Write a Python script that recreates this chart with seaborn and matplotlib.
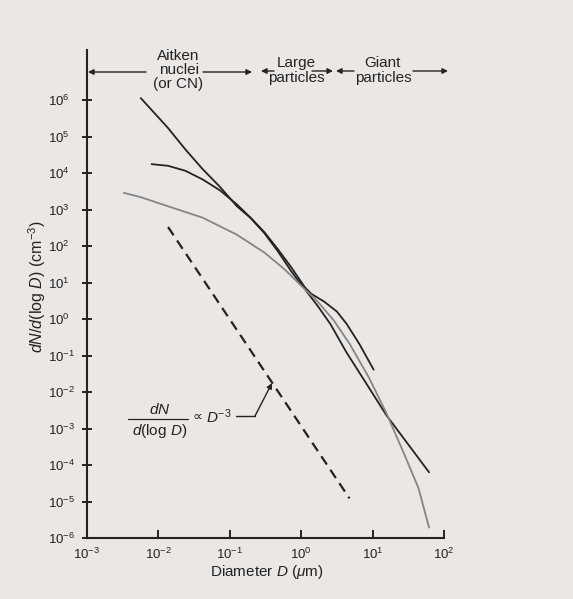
import matplotlib
matplotlib.use("Agg")
import matplotlib.pyplot as plt
import seaborn as sns
import pandas as pd
from matplotlib.lines import Line2D
from matplotlib.patches import FancyArrowPatch
from matplotlib.ticker import NullLocator

# ---------------- data ----------------
# Curve A (top, steep black line)
a_diam = [0.00566, 0.0135, 0.0238, 0.0416, 0.0723, 0.126, 0.195, 0.303, 0.469,
          0.726, 1.122, 1.698, 2.564, 4.315, 7.261, 15.63, 61.8]
a_num = [1.13e6, 1.75e5, 4.46e4, 1.28e4, 4.23e3, 1.225e3, 587.5, 228.6, 72.6,
         20.2, 6.62, 2.29, 0.726, 0.121, 0.0245, 2.30e-3, 6.31e-5]

# Curve B (middle black line with shoulder)
b_diam = [0.00804, 0.01365, 0.0238, 0.0416, 0.0723, 0.126, 0.195, 0.303, 0.469,
          0.726, 1.122, 1.377, 2.089, 3.162, 4.315, 6.531, 10.35]
b_num = [1.75e4, 1.574e4, 1.153e4, 6.67e3, 3.38e3, 1.374e3, 598.4, 242.7, 82.6,
         26.1, 7.45, 4.92, 3.01, 1.60, 0.740, 0.206, 0.0408]

# Curve C (grey line)
c_diam = [0.00328, 0.00566, 0.01365, 0.0416, 0.126, 0.303, 0.585, 1.009, 1.698,
          2.851, 4.786, 8.913, 15.63, 27.73, 43.85, 61.8]
c_num = [2858, 2178, 1225, 598.4, 203.2, 66.8, 22.96, 8.04, 3.01,
         0.920, 0.206, 0.0245, 2.61e-3, 1.98e-4, 2.35e-5, 1.93e-6]

# Reference slope line  dN/d(log D) ∝ D^-3
ref_diam = [0.01365, 4.742]
ref_num = [331.9, 1.219e-5]

y_ticks = [1e-6, 1e-5, 1e-4, 1e-3, 1e-2, 1e-1, 1e0, 1e1, 1e2, 1e3, 1e4, 1e5, 1e6]
x_ticks = [1e-3, 1e-2, 1e-1, 1e0, 1e1, 1e2]

# ---------------- style ----------------
sns.set_theme(style="ticks")
plt.rcParams["font.family"] = ["Liberation Sans", "DejaVu Sans"]
plt.rcParams["mathtext.fontset"] = "custom"
plt.rcParams["mathtext.rm"] = "Liberation Sans"
plt.rcParams["mathtext.it"] = "Liberation Sans:italic"
plt.rcParams["mathtext.bf"] = "Liberation Sans:bold"

BG = "#ebe7e5"
INK = "#232323"
GREY = "#858585"

W, H = 573, 599
fig = plt.figure(figsize=(W / 100, H / 100), dpi=100, facecolor=BG)
ax = fig.add_axes([87 / W, 1 - 538 / H, (444 - 87) / W, (538 - 50) / H])
ax.set_facecolor(BG)


def P(px, py):
    return (px / W, 1 - py / H)


line_kw = dict(sort=False, estimator=None, solid_joinstyle="round",
               solid_capstyle="round")
sns.lineplot(data=pd.DataFrame({"D": a_diam, "N": a_num}), x="D", y="N", ax=ax,
             color=INK, lw=1.3, **line_kw)
sns.lineplot(data=pd.DataFrame({"D": b_diam, "N": b_num}), x="D", y="N", ax=ax,
             color=INK, lw=1.3, **line_kw)
sns.lineplot(data=pd.DataFrame({"D": c_diam, "N": c_num}), x="D", y="N", ax=ax,
             color=GREY, lw=1.3, **line_kw)
sns.lineplot(x=ref_diam, y=ref_num, ax=ax, color=INK, lw=1.6,
             sort=False, estimator=None)
ax.lines[-1].set_dashes((4.5, 2.8))

ax.set_xscale("log")
ax.set_yscale("log")
ax.set_xlim(1e-3, 1e2)
ax.set_ylim(1e-6, 10 ** 7.37)
ax.set_xticks(x_ticks)
ax.set_yticks(y_ticks)
ax.xaxis.set_minor_locator(NullLocator())
ax.yaxis.set_minor_locator(NullLocator())

for s in ["top", "right"]:
    ax.spines[s].set_visible(False)
for s in ["left", "bottom"]:
    ax.spines[s].set_color(INK)
    ax.spines[s].set_linewidth(1.5)

ax.tick_params(axis="y", direction="inout", length=7.5, width=1.4, color=INK,
               labelsize=9.5, labelcolor=INK, pad=24)
ax.tick_params(axis="x", direction="in", length=5.5, width=1.4, color=INK,
               labelsize=9.5, labelcolor=INK, pad=6)
for lab in ax.get_yticklabels():
    lab.set_horizontalalignment("left")

ax.set_xlabel(r"Diameter $D$ ($\mu$m)", fontsize=11, color=INK)
ax.xaxis.label.set_va("center")
ax.xaxis.set_label_coords((267 - 87) / 357, (538 - 572) / 488)
ax.set_ylabel(r"$dN/d$(log $D$) (cm$^{-3}$)", fontsize=11.5, color=INK)
ax.yaxis.label.set_va("center")
ax.yaxis.set_label_coords((37 - 87) / 357, (538 - 287) / 488)

# ---------------- top size-range labels ----------------
tk = dict(fontsize=11, color=INK, ha="center", va="center")
fig.text(*P(178, 56), "Aitken", **tk)
fig.text(*P(179, 70), "nuclei", **tk)
fig.text(*P(178, 84), "(or CN)", **tk)
fig.text(*P(296, 63), "Large", **tk)
fig.text(*P(296, 78), "particles", **tk)
fig.text(*P(382, 63), "Giant", **tk)
fig.text(*P(383, 78), "particles", **tk)

arr = dict(arrowstyle="-|>", color=INK, lw=1.0, mutation_scale=8,
           shrinkA=0, shrinkB=0)
for (x0, x1, yy) in [(146, 88, 72), (203, 252, 72), (274, 261, 71),
                     (312, 333, 71), (354, 336, 71), (413, 448, 71)]:
    fig.add_artist(FancyArrowPatch(P(x0, yy), P(x1, yy),
                                   transform=fig.transFigure, **arr))

# ---------------- D^-3 annotation ----------------
fig.text(*P(160, 409), r"$dN$", fontsize=11, color=INK, ha="center", va="center")
fig.text(*P(160, 431), r"$d$(log $D$)", fontsize=11, color=INK,
         ha="center", va="center")
fig.add_artist(Line2D([128 / W, 188 / W], [1 - 419 / H, 1 - 419 / H],
                      transform=fig.transFigure, color=INK, lw=0.9))
fig.text(*P(197, 417), "∝", fontsize=10, color=INK, ha="center", va="center",
         family=["DejaVu Sans"])
fig.text(*P(206, 417), r"$D^{-3}$", fontsize=11, color=INK, ha="left", va="center")
fig.add_artist(Line2D([236 / W, 255 / W], [1 - 416 / H, 1 - 416 / H],
                      transform=fig.transFigure, color=INK, lw=1.0))
fig.add_artist(FancyArrowPatch(P(255, 416), P(272, 383),
                               transform=fig.transFigure, **arr))

fig.savefig("out.png", dpi=100, facecolor=BG)
